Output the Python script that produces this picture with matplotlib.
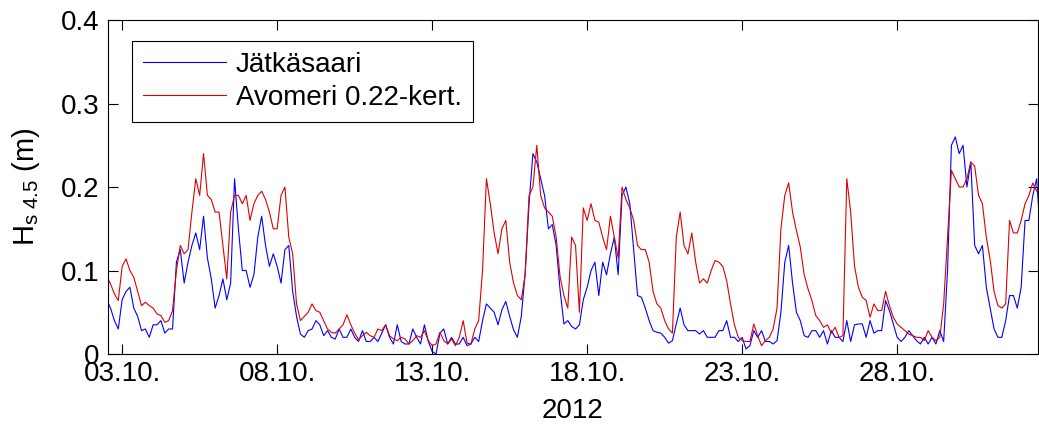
import numpy as np
import pandas as pd
import matplotlib
matplotlib.use("Agg")
import matplotlib.pyplot as plt
import matplotlib.dates as mdates

plt.rcParams["font.family"] = ["Liberation Sans", "DejaVu Sans"]
plt.rcParams["mathtext.fontset"] = "custom"
plt.rcParams["mathtext.rm"] = "Liberation Sans"
plt.rcParams["mathtext.it"] = "Liberation Sans:italic"

# 3-hourly values from 02.10.2012 12:00
start = "2012-10-02 12:00"
step = "3h"

# Jätkäsaari, Hs 4.5 (m)
jatkasaari = [
    0.065, 0.055, 0.040, 0.030,
    0.065, 0.075, 0.080, 0.055, 0.045, 0.028, 0.030, 0.020,  # 03.10.
    0.035, 0.035, 0.040, 0.025, 0.030, 0.030, 0.110, 0.125,
    0.085, 0.110, 0.130, 0.145, 0.125, 0.165, 0.115, 0.090,
    0.055, 0.070, 0.090, 0.065, 0.085, 0.210, 0.150, 0.100,
    0.100, 0.080, 0.095, 0.140, 0.165, 0.130, 0.105, 0.120,
    0.105, 0.085, 0.125, 0.130, 0.075, 0.045, 0.024, 0.020,  # 08.10.
    0.028, 0.030, 0.040, 0.035, 0.022, 0.028, 0.020, 0.018,
    0.030, 0.020, 0.020, 0.030, 0.020, 0.015, 0.028, 0.015,
    0.015, 0.020, 0.015, 0.025, 0.035, 0.020, 0.012, 0.035,
    0.015, 0.012, 0.012, 0.030, 0.020, 0.012, 0.035, 0.015,
    0.003, 0.000, 0.025, 0.030, 0.012, 0.020, 0.012, 0.012,  # 13.10.
    0.020, 0.010, 0.012, 0.020, 0.015, 0.040, 0.060, 0.055,
    0.050, 0.035, 0.053, 0.063, 0.045, 0.029, 0.020, 0.045,
    0.097, 0.180, 0.240, 0.230, 0.210, 0.190, 0.150, 0.155,
    0.130, 0.077, 0.036, 0.040, 0.033, 0.030, 0.035, 0.065,
    0.080, 0.100, 0.110, 0.070, 0.110, 0.095, 0.120, 0.140,  # 18.10.
    0.095, 0.190, 0.200, 0.180, 0.125, 0.070, 0.068, 0.055,
    0.040, 0.028, 0.026, 0.025, 0.020, 0.013, 0.016, 0.036,
    0.055, 0.035, 0.028, 0.028, 0.028, 0.024, 0.028, 0.020,
    0.020, 0.020, 0.028, 0.028, 0.040, 0.020, 0.020, 0.015,
    0.020, 0.006, 0.010, 0.028, 0.020, 0.028, 0.015, 0.015,  # 23.10.
    0.012, 0.016, 0.050, 0.110, 0.130, 0.085, 0.050, 0.040,
    0.022, 0.020, 0.028, 0.028, 0.020, 0.028, 0.012, 0.028,
    0.020, 0.020, 0.015, 0.040, 0.015, 0.035, 0.036, 0.036,
    0.020, 0.040, 0.025, 0.028, 0.028, 0.064, 0.052, 0.036,
    0.020, 0.015, 0.020, 0.028, 0.022, 0.016, 0.012, 0.020,  # 28.10.
    0.012, 0.020, 0.012, 0.028, 0.015, 0.100, 0.250, 0.260,
    0.240, 0.250, 0.200, 0.230, 0.130, 0.120, 0.130, 0.080,
    0.055, 0.030, 0.020, 0.020, 0.040, 0.070, 0.070, 0.055,
    0.080, 0.160, 0.160, 0.190, 0.210, 0.140,
]

# open sea, scaled by 0.22
avomeri = [
    0.093, 0.084, 0.072, 0.064,
    0.105, 0.114, 0.100, 0.092, 0.075, 0.058, 0.062, 0.058,  # 03.10.
    0.055, 0.048, 0.046, 0.038, 0.040, 0.052, 0.100, 0.130,
    0.120, 0.125, 0.170, 0.210, 0.190, 0.240, 0.190, 0.185,
    0.170, 0.170, 0.130, 0.090, 0.170, 0.190, 0.190, 0.180,
    0.190, 0.160, 0.180, 0.190, 0.195, 0.185, 0.170, 0.150,
    0.150, 0.190, 0.200, 0.140, 0.120, 0.060, 0.040, 0.045,  # 08.10.
    0.050, 0.060, 0.052, 0.050, 0.040, 0.030, 0.026, 0.025,
    0.030, 0.035, 0.047, 0.035, 0.025, 0.017, 0.022, 0.026,
    0.022, 0.020, 0.030, 0.028, 0.035, 0.022, 0.018, 0.016,
    0.020, 0.018, 0.012, 0.016, 0.022, 0.020, 0.028, 0.016,
    0.010, 0.012, 0.026, 0.016, 0.012, 0.018, 0.010, 0.020,  # 13.10.
    0.040, 0.013, 0.012, 0.030, 0.040, 0.100, 0.210, 0.180,
    0.145, 0.120, 0.150, 0.160, 0.110, 0.085, 0.070, 0.065,
    0.095, 0.190, 0.200, 0.250, 0.190, 0.175, 0.170, 0.165,
    0.140, 0.093, 0.070, 0.055, 0.140, 0.130, 0.050, 0.175,
    0.160, 0.180, 0.160, 0.158, 0.140, 0.125, 0.165, 0.140,  # 18.10.
    0.115, 0.200, 0.185, 0.175, 0.160, 0.130, 0.125, 0.125,
    0.110, 0.075, 0.060, 0.055, 0.040, 0.030, 0.025, 0.140,
    0.170, 0.130, 0.120, 0.145, 0.110, 0.085, 0.090, 0.085,
    0.100, 0.112, 0.110, 0.105, 0.088, 0.060, 0.035, 0.020,
    0.016, 0.015, 0.015, 0.036, 0.022, 0.010, 0.016, 0.020,  # 23.10.
    0.030, 0.055, 0.150, 0.190, 0.205, 0.170, 0.148, 0.128,
    0.095, 0.078, 0.064, 0.046, 0.040, 0.032, 0.035, 0.025,
    0.032, 0.020, 0.022, 0.210, 0.170, 0.105, 0.080, 0.068,
    0.064, 0.044, 0.060, 0.052, 0.052, 0.075, 0.058, 0.044,
    0.036, 0.032, 0.028, 0.024, 0.022, 0.020, 0.020, 0.016,  # 28.10.
    0.028, 0.020, 0.016, 0.020, 0.060, 0.140, 0.220, 0.210,
    0.200, 0.200, 0.210, 0.230, 0.225, 0.190, 0.180, 0.140,
    0.113, 0.075, 0.058, 0.055, 0.060, 0.160, 0.145, 0.145,
    0.160, 0.180, 0.190, 0.205, 0.195, 0.200,
]

series_labels = ["Jätkäsaari", "Avomeri 0.22-kert."]
yticks = [0, 0.1, 0.2, 0.3, 0.4]
ytick_labels = ["0", "0.1", "0.2", "0.3", "0.4"]

time = pd.date_range(start, periods=len(avomeri), freq=step)

fig = plt.figure(figsize=(10.39, 4.30), dpi=100)
ax = fig.add_axes([0.1039, 0.1767, 0.8951, 0.7767])

ax.plot(time, jatkasaari, color="#0000ff", lw=0.8, label=series_labels[0])
ax.plot(time, avomeri, color="#dd0000", lw=0.8, label=series_labels[1])

ax.set_xlim(pd.Timestamp("2012-10-02 13:00"), pd.Timestamp("2012-11-01 13:00"))
ax.set_ylim(0, 0.4)
ax.set_yticks(yticks)
ax.set_yticklabels(ytick_labels)
ax.xaxis.set_major_locator(mdates.DayLocator(bymonthday=[3, 8, 13, 18, 23, 28]))
ax.xaxis.set_major_formatter(mdates.DateFormatter("%d.%m."))

ax.tick_params(direction="in", length=7, width=0.8, top=True, right=True,
               labelsize=20)
ax.tick_params(axis="y", pad=6)
ax.tick_params(axis="x", pad=5)
for s in ax.spines.values():
    s.set_linewidth(0.8)
    s.set_color("k")

ax.set_xlabel("2012", fontsize=20, labelpad=8)
ax.set_ylabel(r"H$_{\mathrm{s\ 4.5}}$ (m)", fontsize=21, labelpad=14)

leg = ax.legend(loc="upper left", bbox_to_anchor=(0.0255, 0.938), borderaxespad=0,
                fontsize=20, handlelength=3.0, handletextpad=0.35,
                borderpad=0.4, labelspacing=0.25, fancybox=False, framealpha=1)
leg.get_frame().set_edgecolor("k")
leg.get_frame().set_linewidth(0.8)

fig.savefig("out.png", dpi=100)
